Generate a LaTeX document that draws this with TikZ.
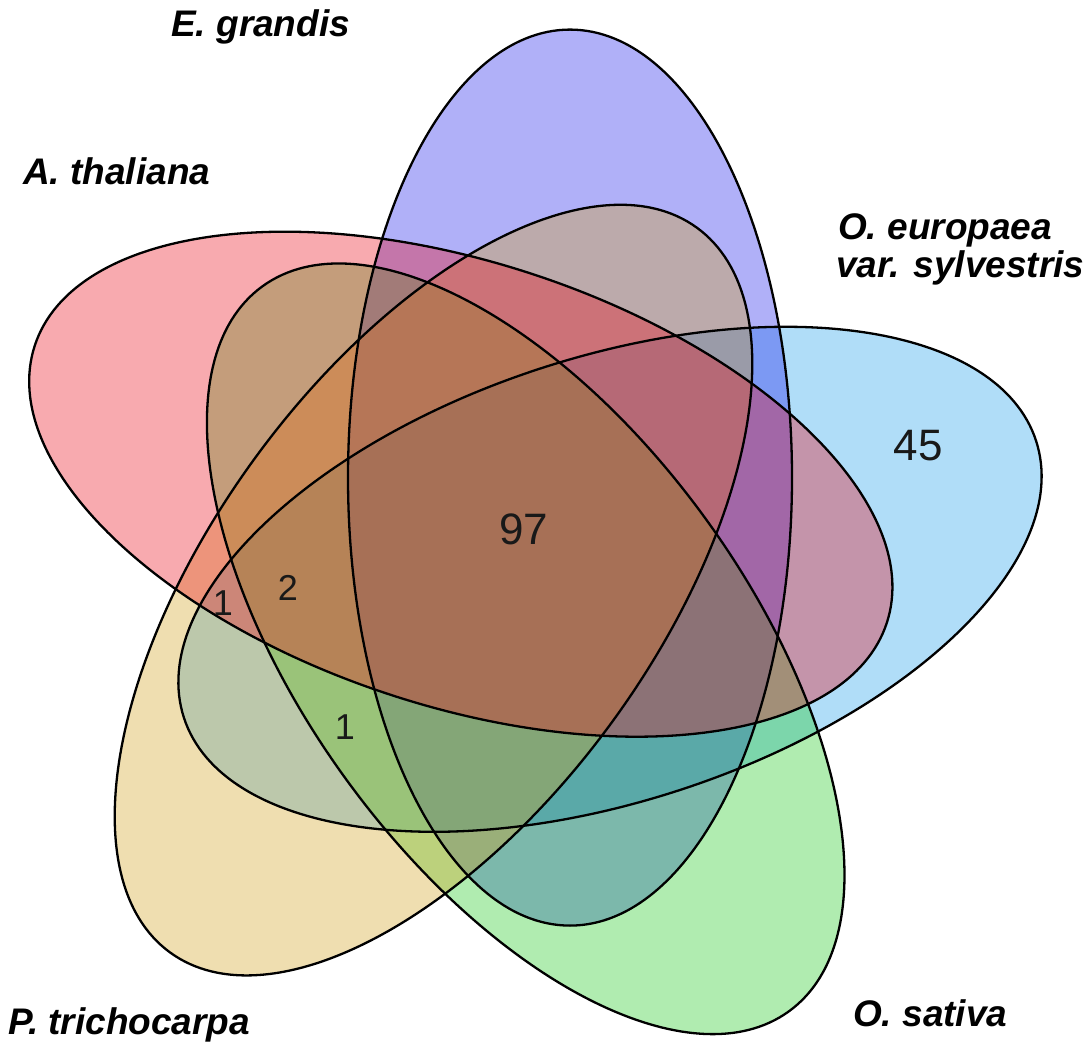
\documentclass[tikz,border=0pt]{standalone}
\usepackage{fontspec}
\setmainfont{Liberation Sans}
\definecolor{lbC}{RGB}{29,160,235}
\definecolor{blC}{RGB}{29,29,235}
\definecolor{grC}{RGB}{29,201,29}
\definecolor{tnC}{RGB}{212,161,29}
\definecolor{rdC}{RGB}{235,12,26}
\begin{document}
\begin{tikzpicture}[x=1pt,y=1pt,
  setfill/.style={fill=#1, fill opacity=0.35},
  setline/.style={draw=black, line width=2.3pt},
  lab/.style={font=\fontsize{37}{41}\selectfont\bfseries\itshape, inner sep=0pt, anchor=base west},
  bignum/.style={font=\fontsize{44}{48}\selectfont, inner sep=0pt, text=black!90},
  smallnum/.style={font=\fontsize{36}{40}\selectfont, inner sep=0pt, text=black!90}]
\useasboundingbox (0,0) rectangle (1092,1045);
\fill[white] (0,0) rectangle (1092,1045);
% set fills (O. europaea, E. grandis, O. sativa, P. trichocarpa, A. thaliana)
\foreach \cx/\cy/\ang/\col in {610.0/465.7/18/lbC, 570.0/567.4/90/blC, 525.7/396.2/-54/grC, 433.5/454.9/54/tnC, 460.8/560.8/162/rdC}{
  \path[setfill=\col, rotate around={\ang:(\cx,\cy)}] (\cx,\cy) ellipse [x radius=448, y radius=222];
}
% outlines
\foreach \cx/\cy/\ang in {610.0/465.7/18, 570.0/567.4/90, 525.7/396.2/-54, 433.5/454.9/54, 460.8/560.8/162}{
  \path[setline, rotate around={\ang:(\cx,\cy)}] (\cx,\cy) ellipse [x radius=448, y radius=222];
}
% counts
\node[bignum] (n97) at (524,516) {97};
\node[bignum] (n45) at (918,599) {45};
\node[smallnum] (n2) at (288,457) {2};
\node[smallnum] (n1a) at (223,442) {1};
\node[smallnum] (n1b) at (345,318) {1};
% labels
\node[lab] (egr) at (171,1008) {E. grandis};
\node[lab] (ath) at (23,860) {A. thaliana};
\node[lab] (oeu1) at (838,805) {O. europaea};
\node[lab] (oeu2) at (836,767) {var. sylvestris};
\node[lab] (ptr) at (8,11) {P. trichocarpa};
\node[lab] (osa) at (853,19) {O. sativa};
\end{tikzpicture}
\end{document}
